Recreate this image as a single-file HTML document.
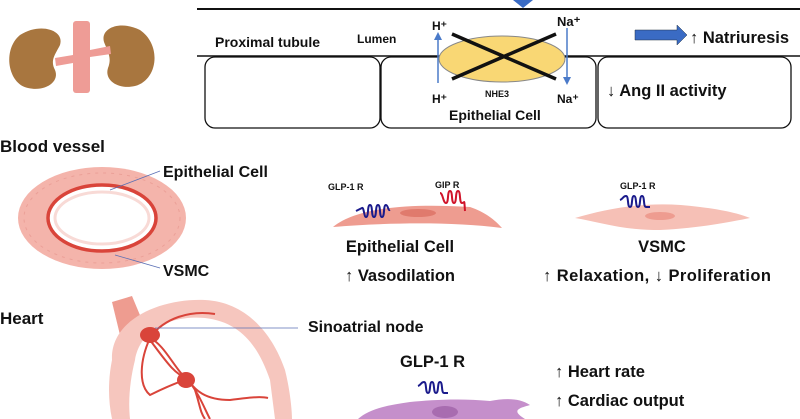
<!DOCTYPE html>
<html><head><meta charset="utf-8"><style>
html,body{margin:0;padding:0;background:#fff;width:800px;height:419px;overflow:hidden}
svg{display:block}
text{font-family:"Liberation Sans",sans-serif;font-weight:bold;fill:#111}
</style></head><body>
<svg width="800" height="419" viewBox="0 0 800 419" xmlns="http://www.w3.org/2000/svg">
<!-- kidney -->
<path d="M20,35 C40,22 65,30 60,45 C55,55 50,60 55,70 C60,82 45,92 28,88 C8,84 2,50 20,35Z" fill="#A8763F"/>
<path d="M140,30 C120,20 100,28 104,42 C108,52 112,58 108,68 C104,80 118,90 135,86 C158,80 162,45 140,30Z" fill="#A8763F"/>
<rect x="73" y="21" width="17" height="72" rx="3" fill="#EE9C96"/>
<path d="M55,58 L73,55 L73,63 L56,66Z M90,50 L110,46 L111,54 L90,57Z" fill="#EE9C96"/>
<!-- kidney tubule -->
<line x1="197" y1="9" x2="800" y2="9" stroke="#111" stroke-width="2"/>
<path d="M513,0 L533,0 L523,8Z" fill="#3A6BC4"/>
<line x1="197" y1="56" x2="800" y2="56" stroke="#111" stroke-width="1.5"/>
<rect x="205" y="57" width="175" height="71" rx="10" fill="#fff" stroke="#111" stroke-width="1.3"/>
<rect x="381" y="57" width="215" height="71" rx="10" fill="#fff" stroke="#111" stroke-width="1.3"/>
<rect x="598" y="57" width="193" height="71" rx="10" fill="#fff" stroke="#111" stroke-width="1.3"/>
<text x="215" y="47" font-size="14">Proximal tubule</text>
<text x="357" y="43" font-size="12">Lumen</text>
<ellipse cx="502" cy="59" rx="63" ry="23" fill="#F9D774" stroke="#888" stroke-width="1"/>
<line x1="452" y1="34" x2="556" y2="79" stroke="#111" stroke-width="3.5"/>
<line x1="452" y1="79" x2="556" y2="34" stroke="#111" stroke-width="3.5"/>
<line x1="438" y1="83" x2="438" y2="38" stroke="#4A7AC9" stroke-width="1.5"/>
<path d="M434,40 L438,32 L442,40Z" fill="#4A7AC9"/>
<line x1="567" y1="28" x2="567" y2="78" stroke="#4A7AC9" stroke-width="1.5"/>
<path d="M563,77 L567,85 L571,77Z" fill="#4A7AC9"/>
<text x="432" y="30" font-size="12" font-weight="normal">H⁺</text>
<text x="432" y="103" font-size="12" font-weight="normal">H⁺</text>
<text x="557" y="26" font-size="13" font-weight="normal">Na⁺</text>
<text x="557" y="103" font-size="12" font-weight="normal">Na⁺</text>
<text x="485" y="97" font-size="9">NHE3</text>
<text x="449" y="120" font-size="14">Epithelial Cell</text>
<path d="M635,30 L677,30 L677,25 L687,35 L677,45 L677,40 L635,40Z" fill="#3A6BC4" stroke="#234" stroke-width="0.5"/>
<text x="690" y="43" font-size="16.5">↑ Natriuresis</text>
<text x="607" y="96" font-size="16.5">↓ Ang II activity</text>
<!-- blood vessel -->
<text x="0" y="152" font-size="17">Blood vessel</text>
<ellipse cx="102" cy="218" rx="84" ry="51" fill="#F4B4AB"/>
<ellipse cx="102" cy="218" rx="78" ry="45" fill="none" stroke="#EBA098" stroke-width="1" stroke-dasharray="3 5"/>
<ellipse cx="102" cy="218" rx="54" ry="33" fill="#fff" stroke="#D9443A" stroke-width="3.5"/>
<ellipse cx="102" cy="218" rx="47" ry="26" fill="#fff" stroke="#F8DAD6" stroke-width="3"/>
<line x1="110" y1="190" x2="160" y2="171" stroke="#5A6FB5" stroke-width="0.8"/>
<line x1="115" y1="255" x2="160" y2="268" stroke="#5A6FB5" stroke-width="0.8"/>
<text x="163" y="177" font-size="16">Epithelial Cell</text>
<text x="163" y="276" font-size="16">VSMC</text>
<!-- endothelial cell -->
<path d="M333,227 C360,205 420,204 470,207 C485,212 495,220 502,228 C450,221 380,223 333,227Z" fill="#EE9C90"/>
<ellipse cx="418" cy="213" rx="18" ry="4" fill="#E07A6D"/>
<path d="M356,211 l6,-3 c2,-1 2,9 4,9 c3,0 1,-12 4,-12 c3,0 1,12 4,12 c3,0 1,-12 4,-12 c3,0 1,12 4,12 c3,0 1,-12 4,-12 c2,0 2,6 4,5" fill="none" stroke="#1B1B8C" stroke-width="2"/>
<path d="M440,193 c3,0 3,10 6,10 c3,0 1,-12 4,-12 c3,0 1,12 4,12 c3,0 1,-12 4,-12 c3,0 1,12 4,12 c3,0 2,-5 3,8" fill="none" stroke="#D0142A" stroke-width="2"/>
<text x="328" y="190" font-size="9">GLP-1 R</text>
<text x="435" y="188" font-size="9">GIP R</text>
<text x="400" y="252" font-size="16.5" text-anchor="middle">Epithelial Cell</text>
<text x="400" y="281" font-size="16.5" text-anchor="middle">↑ Vasodilation</text>
<!-- VSMC cell -->
<path d="M575,218 C610,208 650,200 700,207 C725,210 740,214 750,218 C730,222 700,228 660,230 C620,230 600,222 575,218Z" fill="#F6C0B6"/>
<ellipse cx="660" cy="216" rx="15" ry="4" fill="#EE9C90"/>
<path d="M620,200 c3,-1 3,-4 6,-4 c3,0 1,11 4,11 c3,0 1,-11 4,-11 c3,0 1,11 4,11 c3,0 1,-11 4,-11 c3,0 1,11 4,11 l4,0" fill="none" stroke="#1B1B8C" stroke-width="2"/>
<text x="620" y="189" font-size="9">GLP-1 R</text>
<text x="662" y="252" font-size="16.5" text-anchor="middle">VSMC</text>
<text x="543" y="281" font-size="16.5" textLength="228">↑  Relaxation, ↓ Proliferation</text>
<!-- heart -->
<text x="0" y="324" font-size="17">Heart</text>
<path d="M112,302 L132,296 L142,320 L120,335Z" fill="#EE9C90"/>
<path d="M112,360 C110,320 160,298 205,300 C245,302 272,332 285,370 C290,390 292,410 292,419 L112,419 C108,400 108,380 112,360Z" fill="#F6C6BE"/>
<path d="M135,360 C140,330 170,315 205,318 C240,322 258,345 270,380 L275,419 L130,419 C128,400 130,380 135,360Z" fill="#fff"/>
<path d="M150,337 C165,318 190,310 215,314 M150,338 C165,345 175,370 188,380 C200,395 205,410 210,419 M150,338 C140,360 138,385 150,395 C160,390 170,385 185,380 M188,380 C195,390 205,400 230,400 C245,398 260,396 268,398 M195,390 C200,405 200,412 205,419 M150,340 C165,360 175,375 187,378" fill="none" stroke="#D9443A" stroke-width="2"/>
<ellipse cx="150" cy="335" rx="10" ry="8" fill="#D9443A"/>
<ellipse cx="186" cy="380" rx="9" ry="8" fill="#D9443A"/>
<line x1="155" y1="328" x2="298" y2="328" stroke="#5A6FB5" stroke-width="0.8"/>
<text x="308" y="332" font-size="16">Sinoatrial node</text>
<!-- cardiomyocyte -->
<path d="M358,419 C370,408 390,405 410,402 C430,400 460,398 490,401 C505,398 520,398 530,405 C520,408 510,410 525,419Z" fill="#C58FCB"/>
<ellipse cx="445" cy="412" rx="13" ry="6" fill="#A86CB0"/>
<path d="M418,386 c3,-1 3,-4 6,-4 c3,0 1,11 4,11 c3,0 1,-11 4,-11 c3,0 1,11 4,11 c3,0 1,-11 4,-11 c3,0 1,11 4,11 l4,0" fill="none" stroke="#1B1B8C" stroke-width="2"/>
<text x="400" y="367" font-size="16.5">GLP-1 R</text>
<text x="555" y="377" font-size="16.5">↑ Heart rate</text>
<text x="555" y="406" font-size="16.5">↑ Cardiac output</text>
</svg>
</body></html>
